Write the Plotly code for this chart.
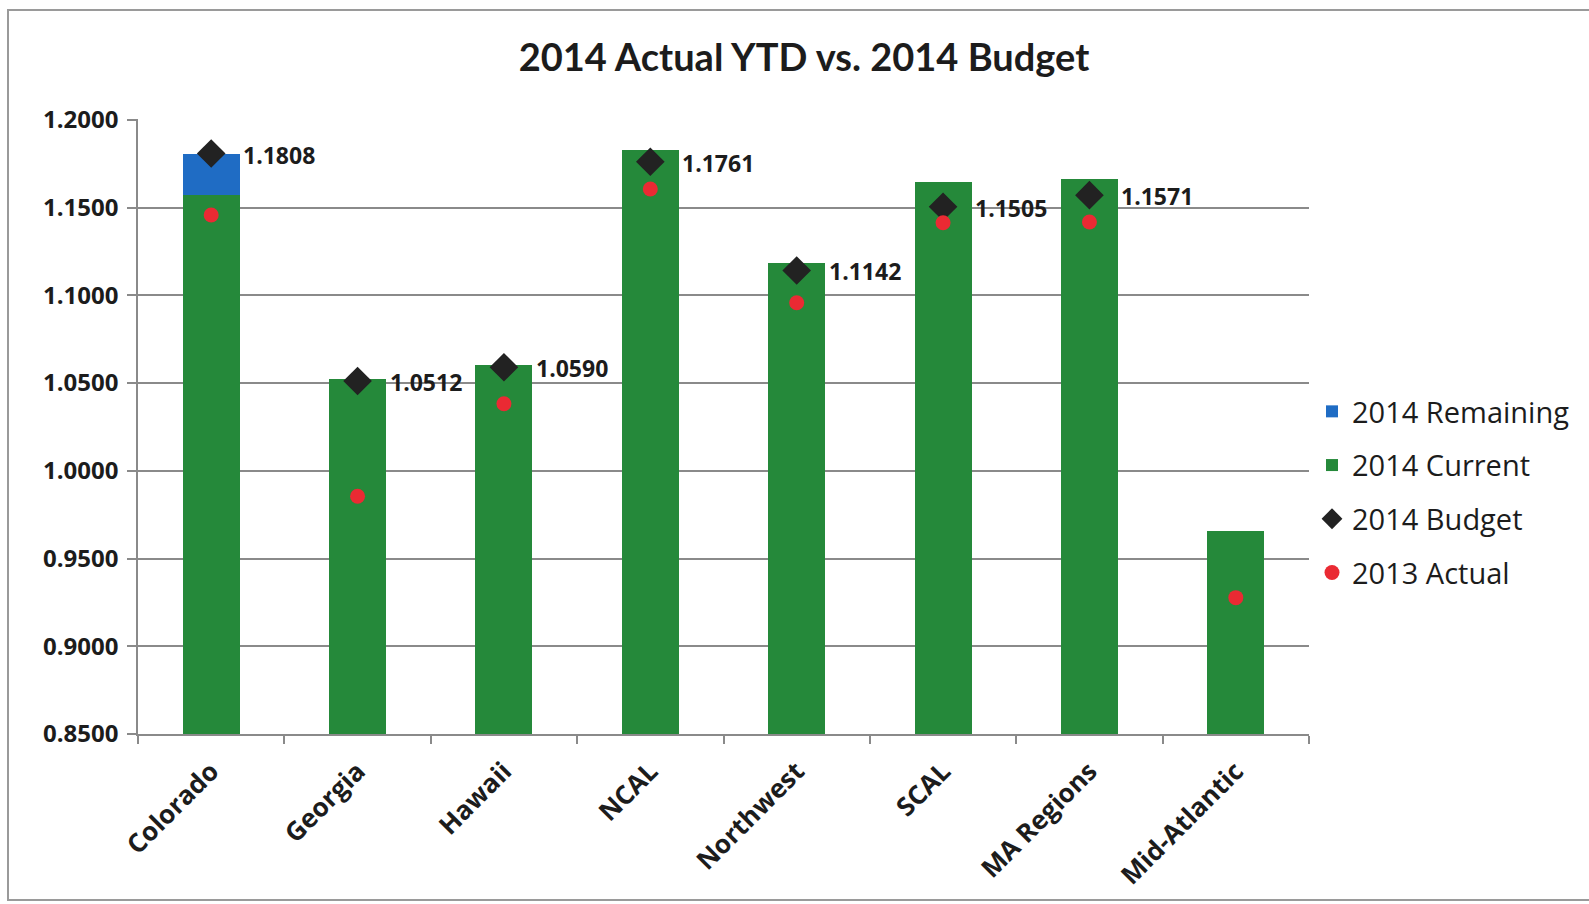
import plotly.graph_objects as go

# Regions and their 2014 / 2013 figures
regions = ["Colorado", "Georgia", "Hawaii", "NCAL", "Northwest", "SCAL", "MA Regions", "Mid-Atlantic"]
current_2014 = [1.1571, 1.0526, 1.0605, 1.1827, 1.1183, 1.1644, 1.1661, 0.9655]
remaining_2014 = [0.0237, 0.0, 0.0, 0.0, 0.0, 0.0, 0.0, 0.0]
budget_2014 = [1.1808, 1.0512, 1.0590, 1.1761, 1.1142, 1.1505, 1.1571, None]
actual_2013 = [1.1458, 0.9855, 1.0382, 1.1606, 1.0958, 1.1414, 1.1418, 0.9277]
y_ticks = [0.85, 0.90, 0.95, 1.00, 1.05, 1.10, 1.15, 1.20]

W, H = 1589, 904
M_L, M_R, M_T, M_B = 138, 280, 119, 170

GREEN = "#25893a"
BLUE = "#1f6cc4"
DIAMOND = "#222222"
RED = "#ea2a33"
GRID = "#8a8a8a"
INK = "#1c1c1c"

fig = go.Figure()

fig.add_trace(go.Bar(
    x=regions, y=current_2014, name="2014 Current",
    marker=dict(color=GREEN, line=dict(width=0)),
    width=0.39, legendrank=2, legendgroup="c",
))
fig.add_trace(go.Bar(
    x=regions, y=remaining_2014, base=current_2014, name="2014 Remaining",
    marker=dict(color=BLUE, line=dict(width=0)),
    width=0.39, legendrank=1, legendgroup="r",
))
fig.add_trace(go.Scatter(
    x=regions, y=budget_2014, mode="markers", name="2014 Budget",
    marker=dict(symbol="diamond", size=22, color=DIAMOND),
    legendrank=3, legendgroup="b",
))
fig.add_trace(go.Scatter(
    x=regions, y=actual_2013, mode="markers", name="2013 Actual",
    marker=dict(symbol="circle", size=15, color=RED),
    legendrank=4, legendgroup="a",
))

# Budget value labels beside each diamond
for reg, val in zip(regions, budget_2014):
    if val is None:
        continue
    fig.add_annotation(
        x=reg, y=val, text=f"{val:.4f}", showarrow=False,
        xanchor="left", yanchor="middle", xshift=30, yshift=-1,
        font=dict(family="Open Sans", size=23, color=INK, weight="bold"),
    )

# Outer chart frame
pw = W - M_L - M_R
ph = H - M_T - M_B
fig.add_shape(
    type="rect", xref="paper", yref="paper",
    x0=(8 - M_L) / pw, x1=(W + 20 - M_L) / pw,
    y0=(H - M_B - 900) / ph, y1=(H - M_B - 10) / ph,
    line=dict(color="#9a9a9a", width=2), fillcolor="rgba(0,0,0,0)", layer="below",
)

fig.update_layout(
    width=W, height=H,
    margin=dict(l=M_L, r=M_R, t=M_T, b=M_B),
    paper_bgcolor="white", plot_bgcolor="white",
    barmode="stack",
    title=dict(
        text="2014 Actual YTD vs. 2014 Budget",
        x=804 / W, xanchor="center", y=1 - 58 / H, yanchor="middle",
        font=dict(family="Lato", size=38, color=INK, weight="bold"),
    ),
    legend=dict(
        x=(1312 - M_L) / pw, xanchor="left",
        y=(H - M_B - 386) / ph, yanchor="top",
        traceorder="grouped", tracegroupgap=13,
        font=dict(family="Open Sans", size=29, color=INK),
        bgcolor="rgba(0,0,0,0)",
    ),
    showlegend=True,
)

fig.update_yaxes(
    range=[0.85, 1.2005], tickvals=y_ticks, tickformat=".4f",
    showgrid=True, gridcolor=GRID, gridwidth=1.5,
    showline=True, linecolor=GRID, linewidth=1.5,
    ticks="outside", ticklen=9, tickcolor=GRID, tickwidth=1.5,
    tickfont=dict(family="Open Sans", size=24, color=INK, weight="bold"),
    zeroline=False, ticklabelstandoff=4,
)
fig.update_xaxes(
    showline=True, linecolor=GRID, linewidth=1.5,
    ticks="outside", ticklen=8, tickcolor=GRID, tickwidth=1.5,
    tickson="boundaries", tickangle=-45,
    tickfont=dict(family="Open Sans", size=26, color=INK, weight="bold"),
    showgrid=False, ticklabelstandoff=10,
)

fig.write_html("out.html")
